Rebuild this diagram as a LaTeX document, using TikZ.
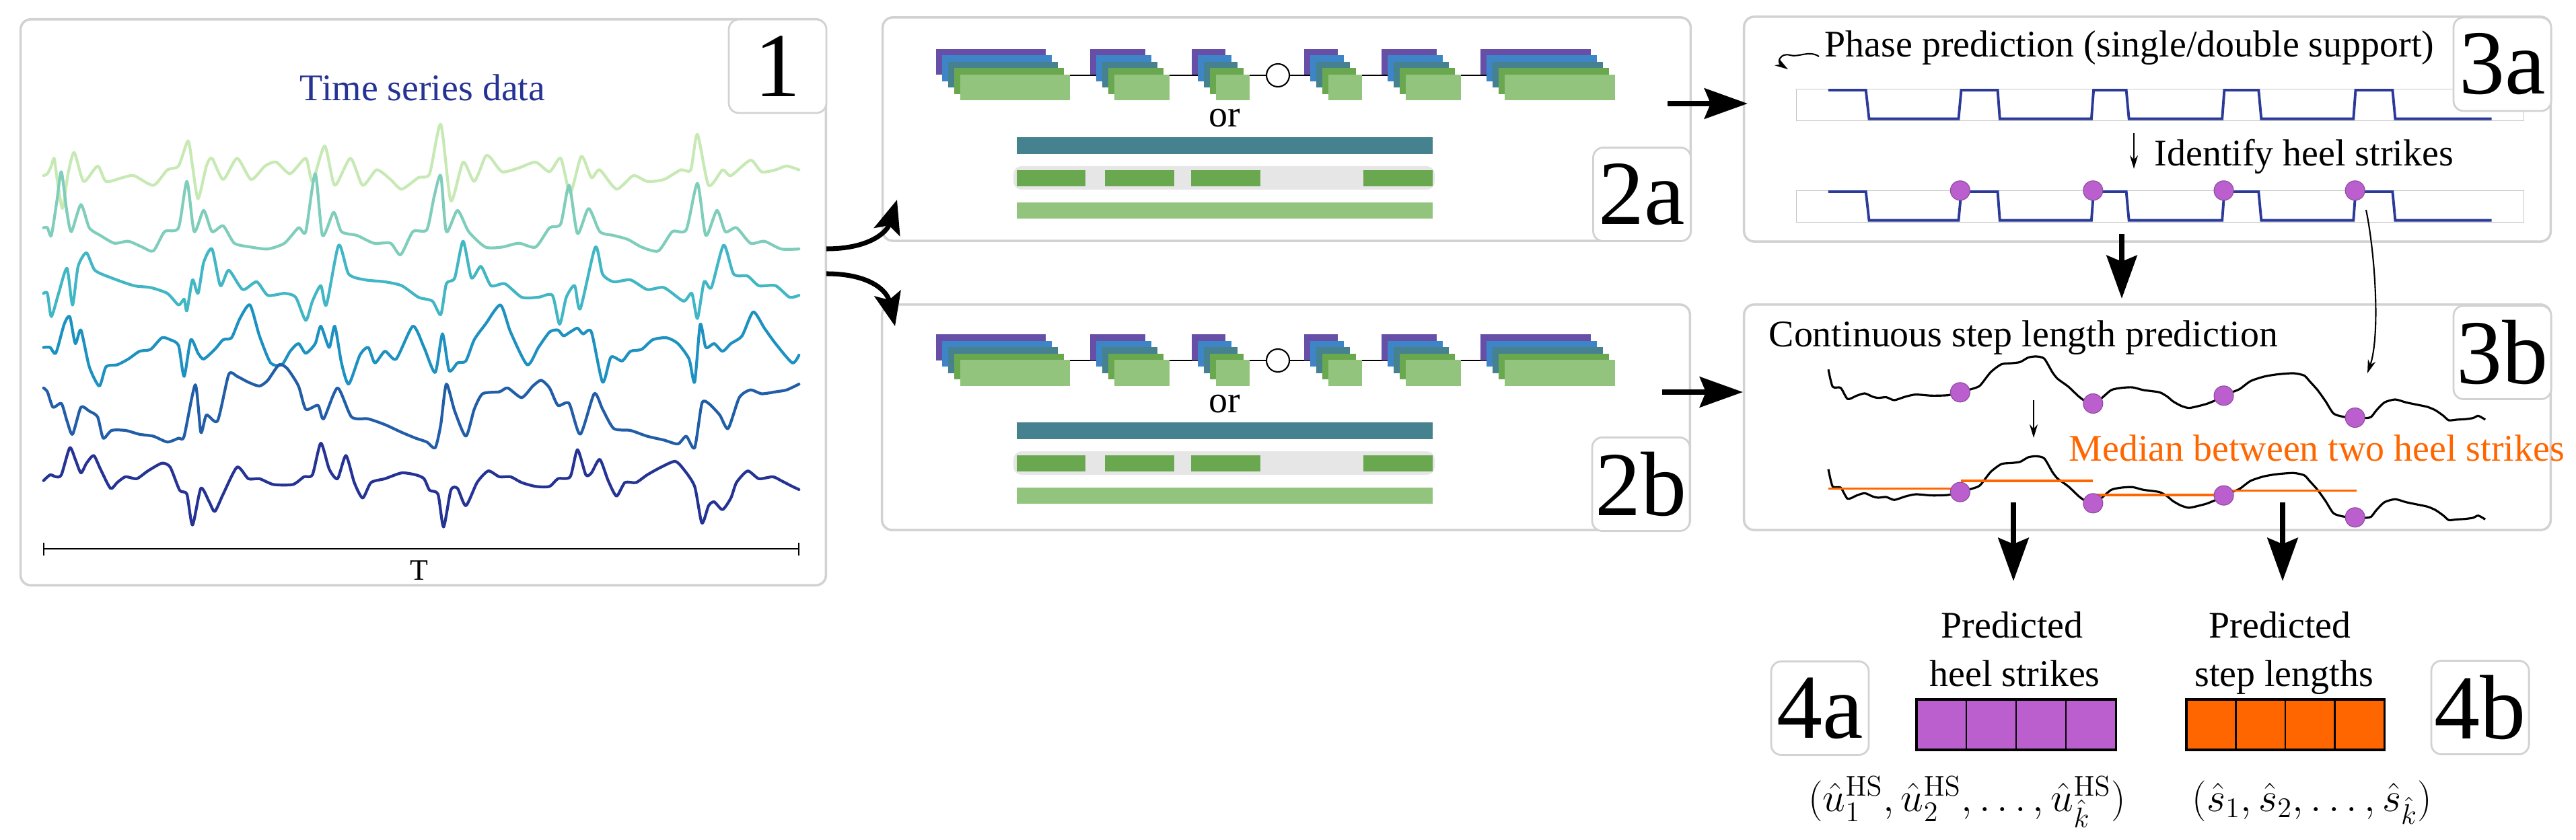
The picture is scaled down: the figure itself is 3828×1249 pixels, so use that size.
\documentclass[tikz,border=0pt]{standalone}
\usepackage[no-math]{fontspec}
\setmainfont{Liberation Serif}
\usetikzlibrary{arrows.meta}
\definecolor{ts1}{HTML}{C7E9B4}
\definecolor{ts2}{HTML}{7FCDBB}
\definecolor{ts3}{HTML}{41B6C4}
\definecolor{ts4}{HTML}{1D91C0}
\definecolor{ts5}{HTML}{225EA8}
\definecolor{ts6}{HTML}{253494}
\definecolor{cpurple}{HTML}{674EA7}
\definecolor{cblue}{HTML}{3D85C6}
\definecolor{cteal}{HTML}{45818E}
\definecolor{cgreen}{HTML}{6AA84F}
\definecolor{clgreen}{HTML}{93C47D}
\definecolor{cgraybar}{HTML}{E6E6E6}
\definecolor{panelgray}{HTML}{D2D2D2}
\definecolor{phaseblue}{HTML}{2B3A98}
\definecolor{hsdotc}{HTML}{BB5FCF}
\definecolor{hsborder}{HTML}{8A4A9A}
\definecolor{medorange}{HTML}{FF6600}
\newcommand\fsmain{\fontsize{15.9}{19}\selectfont}
\newcommand\fslabel{\fontsize{38.7}{40}\selectfont}
\newcommand\fsmath{\fontsize{17.28}{21}\selectfont}
\newcommand\fsT{\fontsize{12.5}{14}\selectfont}
\tikzset{
 panel/.style={draw=panelgray, line width=1pt, rounded corners=0.15cm, fill=white, inner sep=0},
 lbl/.style={draw=panelgray, line width=0.8pt, rounded corners=0.15cm, fill=white, minimum width=1.45cm, minimum height=1.39cm, inner sep=0, font=\fslabel},
 txt/.style={inner sep=0, font=\fsmain},
 hsdot/.style={circle, fill=hsdotc, draw=hsborder, line width=0.3pt, minimum size=0.29cm, inner sep=0},
 bigarrow/.style={line width=2.3pt, -{Stealth[length=0.64cm,width=0.45cm,inset=0.09cm]}},
 curvarrow/.style={line width=2pt, -{Stealth[length=0.5cm,width=0.4cm,inset=0.1cm]}},
 thinarrow/.style={line width=0.6pt, -{Stealth[length=0.2cm,width=0.12cm]}},
 sig/.style={line width=1.2pt, line join=round, line cap=round},
 slc/.style={line width=0.9pt, line join=round},
 steps/.style={phaseblue, line width=1.1pt},
 medline/.style={medorange, line width=1pt},
}
\newcommand\mygrp[3]{\foreach \cc [count=\i from 0] in {cpurple,cblue,cteal,cgreen,clgreen} {\fill[\cc] ({#1+9*\i},{#2+9.5*\i}) rectangle ++(#3,38.5);}}
\newcommand\netcontent[2]{%
 \draw[line width=0.6pt] (1400,{112+#1}) -- (2380,{112+#1});
 \mygrp{1391}{73+#1}{163}
 \mygrp{1620}{73+#1}{82}
 \mygrp{1771}{73+#1}{50}
 \mygrp{1938}{73+#1}{50}
 \mygrp{2053}{73+#1}{82}
 \mygrp{2200}{73+#1}{164}
 \node[circle, draw, fill=white, line width=0.6pt, minimum size=0.34cm, inner sep=0] (circ#2) at (1899,{112+#1}) {};
 \node[txt, anchor=base] (or#2) at (1820,{189+#1}) {or};
 \fill[cteal] (1511,{204+#1}) rectangle (2129,{229+#1});
 \fill[cgraybar, rounded corners=0.12cm] (1506,{247+#1}) rectangle (2132,{282+#1});
 \foreach \a/\b in {1511/1613,1642/1745,1770/1873,2026/2129} {\fill[cgreen] (\a,{253+#1}) rectangle (\b,{277+#1});}
 \fill[clgreen] (1511,{301+#1}) rectangle (2129,{325+#1});
}
\newcommand\stepwave[1]{%
 \draw[steps] plot coordinates {(172,{402+#1}) (242,{402+#1}) (248,{530+#1}) (415,{530+#1}) (420,{402+#1}) (488,{402+#1}) (492,{530+#1}) (663,{530+#1}) (667,{402+#1}) (728,{402+#1}) (733,{530+#1}) (907,{530+#1}) (911,{402+#1}) (975,{402+#1}) (980,{530+#1}) (1152,{530+#1}) (1156,{402+#1}) (1225,{402+#1}) (1230,{530+#1}) (1410,{530+#1})};
}
\newcommand\slpath{%
 \draw[slc] plot[smooth, tension=0.4] coordinates {(172,388) (180,465) (195,470) (208,520) (225,505) (240,495) (255,510) (265,515) (280,512) (295,525) (315,510) (335,500) (365,505) (395,503) (418,490) (440,475) (455,460) (475,400) (495,365) (515,360) (530,355) (545,335) (560,330) (575,340) (590,400) (600,430) (620,465) (640,510) (655,535) (665,540) (680,520) (700,480) (720,470) (740,468) (760,480) (790,490) (805,510) (815,530) (830,550) (845,560) (865,550) (880,540) (900,520) (910,505) (925,490) (940,475) (960,440) (985,420) (1010,410) (1040,405) (1060,415) (1070,440) (1085,480) (1100,530) (1115,585) (1135,600) (1155,603) (1175,605) (1185,600) (1195,570) (1210,535) (1230,522) (1250,535) (1270,545) (1290,555) (1305,570) (1320,595) (1330,615) (1345,612) (1360,610) (1375,605) (1385,595) (1398,612)};
}
\begin{document}
\begin{tikzpicture}[x=0.01cm, y=-0.01cm]
\useasboundingbox (0,0) rectangle (3828,1249);
% panels
\node[panel, minimum width=11.96cm, minimum height=8.41cm] (p1) at (629,449.5) {};
\node[panel, minimum width=12.0cm, minimum height=3.32cm] (p2a) at (1912,192) {};
\node[panel, minimum width=12.0cm, minimum height=3.35cm] (p2b) at (1911,620.5) {};
\node[panel, minimum width=11.98cm, minimum height=3.34cm] (p3a) at (3191,192) {};
\node[panel, minimum width=11.98cm, minimum height=3.35cm] (p3b) at (3191,620.5) {};

% ---- panel 1 ----
\node[txt, anchor=base, text=ts6] (title) at (628,150) {Time series data};
\begin{scope}[xscale=0.8291, yscale=0.574]
\draw[sig, ts1] plot[smooth, tension=0.4] coordinates {(78,455) (85,450) (92,430) (97,410) (103,470) (112,540) (122,450) (133,395) (150,470) (175,430) (190,470) (220,460) (240,455) (275,480) (300,440) (320,430) (337,365) (345,430) (355,515) (370,430) (380,410) (400,465) (425,410) (450,465) (475,430) (495,420) (520,450) (548,410) (560,470) (582,378) (600,480) (628,410) (650,480) (675,440) (700,465) (720,490) (750,460) (770,450) (790,322) (808,520) (830,420) (850,470) (870,405) (880,410) (900,445) (930,435) (960,420) (985,445) (1005,410) (1022,500) (1042,405) (1060,460) (1075,440) (1105,490) (1135,455) (1160,470) (1190,465) (1220,440) (1238,440) (1250,348) (1270,480) (1295,440) (1310,455) (1345,415) (1365,445) (1390,440) (1410,430) (1432,440)};
\draw[sig, ts2] plot[smooth, tension=0.4] coordinates {(78,590) (85,590) (92,610) (102,520) (110,445) (120,550) (128,600) (145,530) (160,590) (180,610) (205,630) (230,625) (255,640) (275,650) (295,600) (320,590) (335,470) (348,600) (365,545) (380,600) (400,585) (420,630) (450,640) (480,645) (510,630) (535,590) (548,600) (565,450) (578,610) (598,550) (612,600) (640,610) (670,630) (700,630) (718,660) (740,600) (765,595) (778,510) (790,455) (800,600) (820,545) (840,600) (870,640) (900,640) (930,630) (960,640) (985,590) (1005,580) (1020,480) (1035,605) (1055,540) (1075,600) (1100,610) (1125,620) (1150,640) (1180,650) (1205,600) (1230,595) (1250,475) (1265,610) (1285,545) (1300,600) (1320,590) (1345,630) (1370,625) (1400,645) (1432,645)};
\draw[sig, ts3] plot[smooth, tension=0.4] coordinates {(78,760) (85,760) (92,820) (105,760) (120,695) (130,790) (140,690) (155,655) (170,700) (200,720) (240,740) (270,745) (300,760) (320,790) (330,775) (335,805) (345,725) (355,760) (365,680) (380,645) (395,740) (410,700) (435,750) (460,730) (480,765) (510,760) (530,770) (548,830) (560,780) (575,740) (585,790) (607,635) (625,710) (655,725) (690,730) (720,740) (750,770) (775,780) (790,815) (800,735) (815,720) (830,625) (845,720) (862,690) (880,740) (905,735) (935,770) (965,770) (990,765) (1003,840) (1015,770) (1030,740) (1040,800) (1067,640) (1080,710) (1100,730) (1130,725) (1160,750) (1190,745) (1225,780) (1240,760) (1250,825) (1262,730) (1275,745) (1297,635) (1315,710) (1340,715) (1360,740) (1390,740) (1415,770) (1432,765)};
\draw[sig, ts4] plot[smooth, tension=0.4] coordinates {(78,900) (90,900) (100,915) (115,840) (125,820) (135,890) (145,855) (160,950) (178,1000) (190,950) (210,945) (230,930) (250,910) (270,905) (290,875) (305,880) (320,895) (330,975) (342,880) (355,915) (365,930) (385,905) (400,880) (415,875) (430,825) (448,790) (465,870) (485,940) (505,945) (520,910) (535,890) (548,915) (565,890) (575,845) (590,900) (600,845) (612,940) (625,995) (645,920) (660,900) (672,940) (690,910) (710,930) (740,845) (760,900) (780,965) (793,865) (805,960) (820,940) (835,935) (850,880) (870,840) (897,790) (915,860) (945,945) (965,900) (985,860) (1000,855) (1010,870) (1022,860) (1035,850) (1045,865) (1060,860) (1080,990) (1095,925) (1115,935) (1130,910) (1150,905) (1170,880) (1195,875) (1215,890) (1235,930) (1245,990) (1255,840) (1265,900) (1280,890) (1295,910) (1310,890) (1330,870) (1350,808) (1370,850) (1390,890) (1420,940) (1432,920)};
\draw[sig, ts5] plot[smooth, tension=0.4] coordinates {(78,1005) (85,1015) (95,1055) (110,1045) (120,1090) (130,1125) (145,1055) (160,1065) (175,1080) (185,1135) (200,1115) (225,1115) (250,1125) (275,1130) (300,1145) (320,1135) (330,1130) (350,997) (360,1120) (370,1075) (390,1090) (410,970) (425,975) (445,990) (465,1000) (480,985) (500,945) (515,955) (535,1000) (548,1060) (570,1050) (580,1085) (605,1005) (630,1080) (660,1085) (690,1100) (720,1120) (745,1135) (765,1145) (780,1160) (790,1100) (800,995) (815,1065) (835,1130) (850,1060) (865,1020) (895,1015) (910,1005) (935,1030) (955,1000) (970,985) (985,1005) (1000,1050) (1020,1045) (1040,1125) (1065,1020) (1080,1060) (1100,1110) (1130,1115) (1160,1130) (1190,1140) (1215,1150) (1230,1130) (1245,1160) (1258,1045) (1270,1045) (1290,1075) (1305,1110) (1325,1030) (1345,1010) (1365,1020) (1390,1015) (1410,1010) (1432,995)};
\draw[sig, ts6] plot[smooth, tension=0.4] coordinates {(78,1245) (90,1230) (100,1235) (110,1230) (125,1160) (135,1190) (145,1225) (155,1200) (168,1180) (180,1215) (198,1265) (210,1250) (225,1235) (245,1240) (265,1220) (290,1200) (305,1210) (322,1270) (335,1280) (345,1360) (360,1265) (375,1300) (385,1325) (400,1280) (425,1210) (445,1240) (465,1240) (490,1255) (525,1255) (545,1235) (560,1230) (575,1148) (590,1215) (605,1240) (620,1180) (635,1250) (650,1290) (665,1250) (690,1240) (720,1225) (745,1230) (760,1240) (770,1270) (785,1280) (795,1365) (808,1270) (820,1265) (835,1310) (855,1250) (875,1220) (895,1235) (915,1235) (935,1250) (960,1260) (985,1260) (1000,1240) (1022,1235) (1035,1165) (1050,1230) (1060,1225) (1075,1190) (1090,1245) (1105,1285) (1120,1250) (1140,1250) (1160,1230) (1185,1210) (1210,1195) (1225,1215) (1245,1260) (1258,1355) (1270,1310) (1280,1300) (1295,1320) (1310,1290) (1320,1250) (1340,1220) (1360,1240) (1385,1235) (1400,1245) (1420,1260) (1432,1268)};
\end{scope}
\draw[line width=0.6pt] (65,816) -- (1187,816);
\draw[line width=0.6pt] (65,807) -- (65,826);
\draw[line width=0.6pt] (1187,807) -- (1187,826);
\node[inner sep=0, font=\fsT, anchor=base] (tlabel) at (623,862) {T};

% ---- panels 2a / 2b ----
\netcontent{0}{a}
\netcontent{424}{b}

% ---- panel 3a ----
\begin{scope}[shift={(2580,0)}, xscale=0.7962, yscale=0.3333]
\draw[gray!45, line width=0.4pt] (112,397) rectangle (1470,538);
\draw[gray!45, line width=0.4pt] (112,850) rectangle (1470,992);
\stepwave{0}
\stepwave{453}
\node[hsdot] (ha1) at (418,850) {};
\node[hsdot] (ha2) at (666,850) {};
\node[hsdot] (ha3) at (910,850) {};
\node[hsdot] (ha4) at (1155,850) {};
\end{scope}
\node[txt, anchor=base west] (phase) at (2711,85) {Phase prediction (single/double support)};
\coordinate (cs) at (2703,84);
\coordinate (ce) at (2657,103);
\draw[thinarrow] (cs) .. controls (2688,74) and (2672,86) .. (2660,82) .. controls (2646,78) and (2640,92) .. (ce);
\coordinate (ida) at (3171,198);
\coordinate (idb) at (3171,251);
\draw[thinarrow] (ida) -- (idb);
\node[txt, anchor=base west] (ident) at (3201,247) {Identify heel strikes};

% ---- panel 3b ----
\begin{scope}[shift={(2580,568.33)}, xscale=0.7962, yscale=0.3333]
\slpath
\end{scope}
\begin{scope}[shift={(2580,420)}, xscale=0.7962, yscale=0.3333]
\slpath
\draw[medline] (172,920) -- (418,920);
\draw[medline] (420,885) -- (665,885);
\draw[medline] (665,948) -- (910,948);
\draw[medline] (912,928) -- (1158,928);
\node[hsdot] (hb1) at (418,490) {};
\node[hsdot] (hb2) at (666,540) {};
\node[hsdot] (hb3) at (910,505) {};
\node[hsdot] (hb4) at (1155,603) {};
\node[hsdot] (hc1) at (418,935) {};
\node[hsdot] (hc2) at (666,985) {};
\node[hsdot] (hc3) at (910,950) {};
\node[hsdot] (hc4) at (1155,1048) {};
\end{scope}
\node[txt, anchor=base west] (cont) at (2628,515) {Continuous step length prediction};
\coordinate (mda) at (3022,595);
\coordinate (mdb) at (3022,651);
\draw[thinarrow] (mda) -- (mdb);
\node[txt, anchor=base west, text=medorange] (median) at (3074,685) {Median between two heel strikes};

% ---- labels ----
\node[lbl] (l1) at (1155.5,98.5) {1};
\node[lbl] (l2a) at (2440,289) {2a};
\node[lbl] (l2b) at (2438.5,720) {2b};
\node[lbl] (l3a) at (3718.5,95.5) {3a};
\node[lbl] (l3b) at (3718.5,524) {3b};
\node[lbl] (l4a) at (2704.5,1053) {4a};
\node[lbl] (l4b) at (3685.5,1052) {4b};

% ---- outputs ----
\node[txt, anchor=base] (pr1) at (2990,948) {Predicted};
\node[txt, anchor=base] (pr1b) at (2994,1020) {heel strikes};
\node[txt, anchor=base] (pr2) at (3388,948) {Predicted};
\node[txt, anchor=base] (pr2b) at (3394,1020) {step lengths};
\node[draw=black, line width=0.9pt, fill=hsdotc, minimum width=2.96cm, minimum height=0.75cm, inner sep=0] (arrhs) at (2996,1077.5) {};
\foreach \xx in {2922,2996,3070} {\draw[line width=0.7pt] (\xx,1040) -- (\xx,1115);}
\node[draw=black, line width=0.9pt, fill=medorange, minimum width=2.94cm, minimum height=0.75cm, inner sep=0] (arrsl) at (3396,1077.5) {};
\foreach \xx in {3322.5,3396,3469.5} {\draw[line width=0.7pt] (\xx,1040) -- (\xx,1115);}
\node[inner sep=0, anchor=base, font=\fsmath] (mhs) at (2923,1206) {$(\hat{u}_1^{\mathrm{HS}}, \hat{u}_2^{\mathrm{HS}}, \ldots, \hat{u}_{\hat{k}}^{\mathrm{HS}})$};
\node[inner sep=0, anchor=base, font=\fsmath] (msl) at (3436,1206) {$(\hat{s}_1, \hat{s}_2, \ldots, \hat{s}_{\hat{k}})$};

% ---- connectors ----
\coordinate (o1) at (1228,370);
\coordinate (i2a) at (1333,297);
\coordinate (o1b) at (1228,407);
\coordinate (i2b) at (1330,485);
\draw[curvarrow] (o1) .. controls (1292,370) and (1318,345) .. (i2a);
\draw[curvarrow] (o1b) .. controls (1292,407) and (1318,432) .. (i2b);
\coordinate (o2a) at (2478,154);
\coordinate (i3a) at (2597,154);
\draw[bigarrow] (o2a) -- (i3a);
\coordinate (o2b) at (2470,583);
\coordinate (i3b) at (2590,583);
\draw[bigarrow] (o2b) -- (i3b);
\coordinate (o3a) at (3153,348);
\coordinate (i3bt) at (3153,444);
\draw[bigarrow] (o3a) -- (i3bt);
\coordinate (hsfrom) at (3516,312);
\coordinate (hsto) at (3518,555);
\draw[thinarrow] (hsfrom) .. controls (3530,380) and (3537,500) .. (hsto);
\coordinate (o4a) at (2992,747);
\coordinate (i4a) at (2992,864);
\draw[bigarrow] (o4a) -- (i4a);
\coordinate (o4b) at (3392,747);
\coordinate (i4b) at (3392,864);
\draw[bigarrow] (o4b) -- (i4b);
\end{tikzpicture}
\end{document}
